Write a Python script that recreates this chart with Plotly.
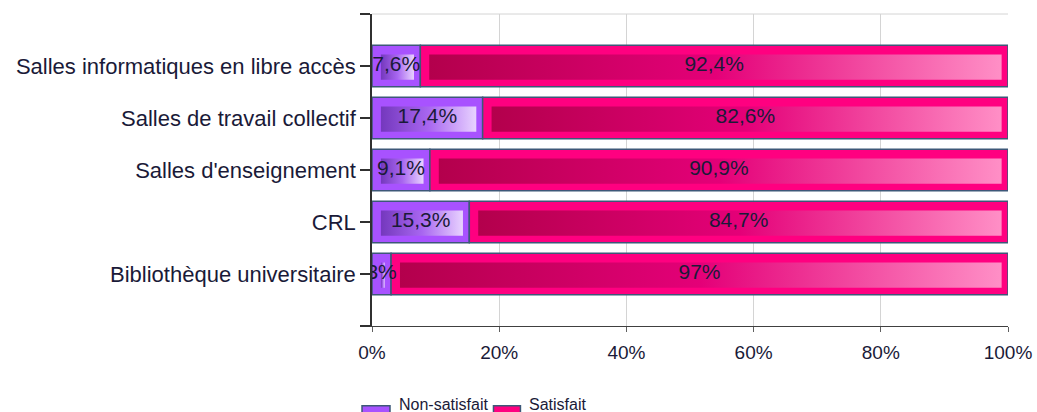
import plotly.graph_objects as go

categories = ["Bibliothèque universitaire", "CRL", "Salles d'enseignement",
              "Salles de travail collectif", "Salles informatiques en libre accès"]
non_satisfait = [3.0, 15.3, 9.1, 17.4, 7.6]
satisfait = [97.0, 84.7, 90.9, 82.6, 92.4]
labels_non = ["3%", "15,3%", "9,1%", "17,4%", "7,6%"]
labels_sat = ["97%", "84,7%", "90,9%", "82,6%", "92,4%"]
x_ticks = [0, 20, 40, 60, 80, 100]
x_tick_labels = ["0%", "20%", "40%", "60%", "80%", "100%"]

PURPLE = "#a852ff"
PINK = "#ff0080"
EDGE = "#3d5878"
TXT = "#1a1a38"
FONT = "Liberation Sans, Arial, sans-serif"

pos = list(range(len(categories)))
BW = 0.8

fig = go.Figure()
fig.add_trace(go.Bar(y=pos, x=non_satisfait, orientation="h", width=BW,
                     marker=dict(color=PURPLE, line=dict(color=EDGE, width=1.5)),
                     name="Non-satisfait", showlegend=False, hoverinfo="skip"))
fig.add_trace(go.Bar(y=pos, x=satisfait, base=non_satisfait, orientation="h", width=BW,
                     marker=dict(color=PINK, line=dict(color=EDGE, width=1.5)),
                     name="Satisfait", showlegend=False, hoverinfo="skip"))

# inner gradient panels (3D look)
def inner(base, val, y, scale):
    x0 = base + 1.4
    x1 = base + val - 1.0
    if x1 <= x0:
        x1 = x0 + 0.3
    y0 = y - BW / 2 + 0.135
    y1 = y + BW / 2 - 0.18
    fig.add_trace(go.Scatter(x=[x0, x1, x1, x0, x0], y=[y0, y0, y1, y1, y0],
                             mode="lines", line=dict(width=0), fill="toself",
                             fillgradient=dict(type="horizontal", colorscale=scale),
                             showlegend=False, hoverinfo="skip"))

purple_scale = [[0, "#7438bd"], [0.5, "#a866f0"], [1, "#e8d2ff"]]
pink_scale = [[0, "#b3004c"], [0.5, "#e40078"], [1, "#ff8fc6"]]
for i, y in enumerate(pos):
    inner(0, non_satisfait[i], y, purple_scale)
    inner(non_satisfait[i], satisfait[i], y, pink_scale)

# value labels
fig.add_trace(go.Scatter(x=[v / 2 for v in non_satisfait], y=pos, mode="text",
                         text=labels_non, textfont=dict(family=FONT, size=21, color=TXT),
                         showlegend=False, hoverinfo="skip"))
fig.add_trace(go.Scatter(x=[n + s / 2 for n, s in zip(non_satisfait, satisfait)], y=pos,
                         mode="text", text=labels_sat,
                         textfont=dict(family=FONT, size=21, color=TXT),
                         showlegend=False, hoverinfo="skip"))

fig.update_layout(
    width=1037, height=412,
    margin=dict(l=372, r=29, t=14, b=86, autoexpand=False),
    paper_bgcolor="white", plot_bgcolor="white",
    barmode="overlay", bargap=0.2,
    font=dict(family=FONT, color=TXT),
    xaxis=dict(range=[0, 100], tickvals=x_ticks, ticktext=x_tick_labels,
               showgrid=True, gridcolor="#d4d4d4", gridwidth=1,
               showline=True, linecolor="#404040", linewidth=1,
               ticks="outside", ticklen=5, tickcolor="#606060", automargin=False,
               ticklabelstandoff=4,
               tickfont=dict(size=19, color=TXT), zeroline=False, fixedrange=True),
    yaxis=dict(range=[-1, 5], tickvals=[-1] + pos + [5], ticktext=[""] + categories + [""],
               showgrid=False, showline=True, linecolor="#303030", linewidth=1.5,
               ticks="outside", ticklen=10, tickcolor="#303030", tickwidth=1.5,
               automargin=False,
               tickfont=dict(size=22, color=TXT), zeroline=False, fixedrange=True),
    shapes=[
        dict(type="line", xref="x domain", yref="y domain", x0=0, x1=1, y0=1, y1=1,
             line=dict(color="#d4d4d4", width=1)),
        dict(type="rect", xref="paper", yref="paper", x0=-0.0157, x1=0.0283,
             y0=-0.30, y1=-0.256, fillcolor=PURPLE, line=dict(color=EDGE, width=1.5)),
        dict(type="rect", xref="paper", yref="paper", x0=0.1910, x1=0.2334,
             y0=-0.30, y1=-0.256, fillcolor=PINK, line=dict(color=EDGE, width=1.5)),
    ],
    annotations=[
        dict(text="Non-satisfait", xref="paper", yref="paper", x=0.0393, y=-0.25,
             xanchor="left", yanchor="middle", showarrow=False,
             font=dict(size=16, color=TXT, family=FONT)),
        dict(text="Satisfait", xref="paper", yref="paper", x=0.2437, y=-0.25,
             xanchor="left", yanchor="middle", showarrow=False,
             font=dict(size=16, color=TXT, family=FONT)),
    ],
)

fig.write_html("out.html", config={"displayModeBar": False},
               post_script="document.body.style.margin='0';document.body.style.overflow='hidden';")
